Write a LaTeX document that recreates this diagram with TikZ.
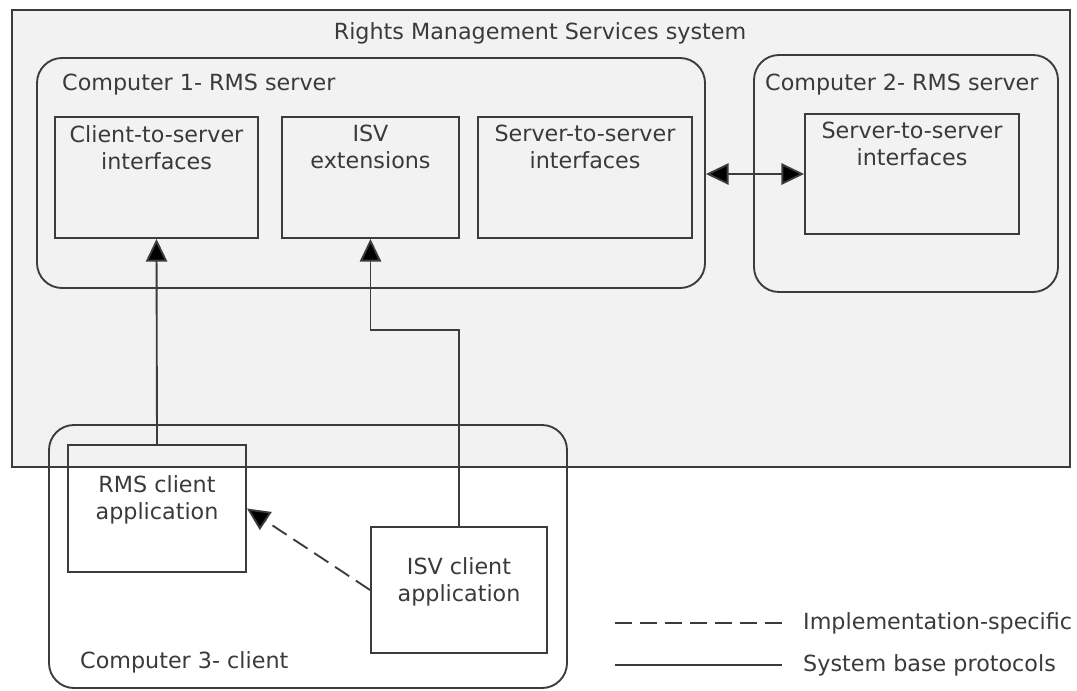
\documentclass[tikz,border=0pt]{standalone}
\usepackage{fontspec}
\setmainfont{DejaVu Sans}
\usetikzlibrary{fit,arrows.meta}
\definecolor{linegray}{HTML}{3C3C3C}
\definecolor{textgray}{HTML}{3A3A3A}
\definecolor{sysfill}{HTML}{F2F2F2}

\begin{document}
\begin{tikzpicture}[x=0.03cm, y=-0.03cm,
	every node/.style={text=textgray, font=\fontsize{19}{23}\selectfont},
	box/.style={draw=linegray, line width=1.6pt, inner sep=0pt, align=center},
	comp/.style={box, rounded corners=0.75cm},
	lbl/.style={anchor=west, inner sep=0pt},
	boxtext/.style={anchor=north, align=center, yshift=-0.15cm},
	>={Triangle[length=0.68cm, width=0.64cm, fill=black]},
	arr/.style={draw=linegray, line width=1.6pt},
	dasharr/.style={arr, dash pattern=on 0.51cm off 0.24cm}]

	\useasboundingbox (0,0) rectangle (1077,690);

	% system frame
	\node[box, fill=sysfill, fit={(12,10) (1070,467)}] (sys) {};
	\node (systitle) at (540,33) {Rights Management Services system};

	% computer 1
	\node[comp, fit={(37,58) (705,288)}] (comp1) {};
	\node[lbl] (comp1label) at (62,85) {Computer 1- RMS server};
	\node[box, fit={(55,117) (258,238)}] (cs) {};
	\node[boxtext] (cstext) at (cs.north) {Client-to-server\\interfaces};
	\node[box, fit={(282,117) (459,238)}] (isvx) {};
	\node[boxtext] (isvxtext) at (isvx.north) {ISV\\extensions};
	\node[box, fit={(478,117) (692,238)}] (ss) {};
	\node[boxtext] (sstext) at (ss.north) {Server-to-server\\interfaces};

	% computer 2
	\node[comp, fit={(754,55) (1058,292)}] (comp2) {};
	\node[lbl] (comp2label) at (765,85) {Computer 2- RMS server};
	\node[box, fit={(805,114) (1019,234)}] (sstwo) {};
	\node[boxtext] (sstwotext) at (sstwo.north) {Server-to-server\\interfaces};

	% computer 3
	\node[comp, fit={(49,425) (567,688)}] (comp3) {};
	\node[lbl] (comp3label) at (80,662) {Computer 3- client};
	\node[box, fit={(68,445) (246,572)}] (rms) {RMS client\\application};
	\node[box, fit={(371,527) (547,653)}] (isvc) {ISV client\\application};

	% connectors
	\coordinate (bend) at (0,330);
	\draw[arr, ->] (rms.north) -- (cs.south);
	\draw[arr, ->] (isvc.north) -- (isvc.north |- bend) -| (isvx.south);
	\draw[arr, <->] (sstwo.west -| comp1.east) -- (sstwo.west);
	\draw[dasharr, ->] (isvc.west) -- (rms.east);

	% legend
	\coordinate (dashA) at (615,623);
	\coordinate (dashB) at (782,623);
	\coordinate (solidA) at (615,665);
	\coordinate (solidB) at (782,665);
	\draw[dasharr] (dashA) -- (dashB);
	\draw[arr] (solidA) -- (solidB);
	\node[lbl] (dashtext) at (803,623) {Implementation-specific};
	\node[lbl] (solidtext) at (803,665) {System base protocols};

\end{tikzpicture}
\end{document}
